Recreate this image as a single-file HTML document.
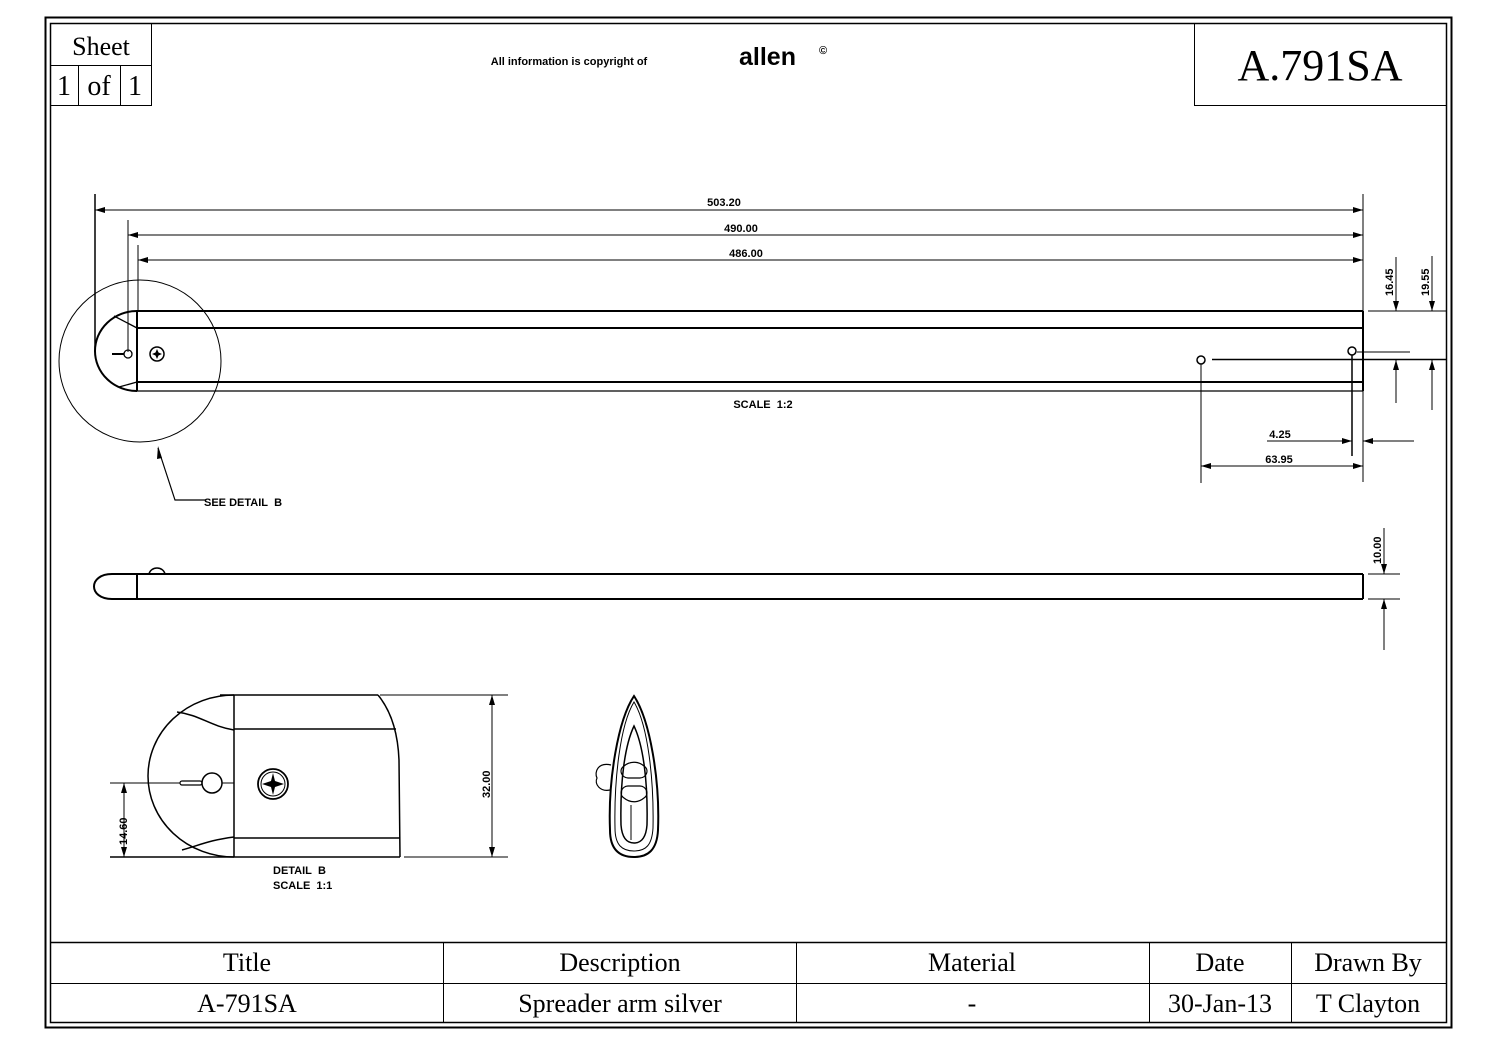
<!DOCTYPE html>
<html><head><meta charset="utf-8"><style>
html,body{margin:0;padding:0;background:#fff;}
svg{display:block;}
.s{font-family:"Liberation Serif",serif;fill:#000;}
.a{font-family:"Liberation Sans",sans-serif;fill:#000;font-weight:bold;}
</style></head><body>
<svg width="1497" height="1058" viewBox="0 0 1497 1058" xmlns="http://www.w3.org/2000/svg">
<defs>
<marker id="ar" viewBox="0 0 10 6" refX="10" refY="3" markerWidth="10" markerHeight="6" markerUnits="userSpaceOnUse" orient="auto-start-reverse"><path d="M0,0 L10,3 L0,6 z" fill="#000"/></marker>
</defs>
<g fill="none" stroke="#000">
<rect x="45.5" y="17.5" width="1406" height="1010" stroke-width="2"/>
<rect x="50.5" y="23.5" width="1396" height="999" stroke-width="1.5"/>
<rect x="50.5" y="23.5" width="101" height="82" stroke-width="1"/>
<line x1="50" y1="65.5" x2="151" y2="65.5"/>
<line x1="78.5" y1="65" x2="78.5" y2="105"/>
<line x1="120.5" y1="65" x2="120.5" y2="105"/>
<rect x="1194.5" y="23.5" width="252" height="82"/>
<line x1="50" y1="942.5" x2="1446" y2="942.5" stroke-width="1.5"/>
<line x1="50" y1="983.5" x2="1446" y2="983.5"/>
<line x1="443.5" y1="942" x2="443.5" y2="1022"/>
<line x1="796.5" y1="942" x2="796.5" y2="1022"/>
<line x1="1149.5" y1="942" x2="1149.5" y2="1022"/>
<line x1="1291.5" y1="942" x2="1291.5" y2="1022"/>

<g stroke-width="2">
<line x1="137" y1="311" x2="1363" y2="311"/>
<line x1="137" y1="328" x2="1363" y2="328"/>
<line x1="137" y1="382" x2="1363" y2="382"/>
<line x1="1363" y1="311" x2="1363" y2="391"/>
<line x1="137" y1="311" x2="137" y2="391"/>
<path d="M137,311 A42,40 0 0 0 137,391"/>
</g>
<line x1="137" y1="391" x2="1363" y2="391" stroke-width="1.2"/>
<line x1="114" y1="316" x2="137" y2="328" stroke-width="1.3"/>
<line x1="119" y1="387" x2="137" y2="382" stroke-width="1.3"/>
<circle cx="128" cy="354" r="4" stroke-width="1.3"/>
<line x1="112" y1="354" x2="124" y2="354" stroke-width="2"/>
<circle cx="157" cy="354" r="7" stroke-width="1.5"/>
<path d="M157,349 L158.5,352.5 L162,354 L158.5,355.5 L157,359 L155.5,355.5 L152,354 L155.5,352.5 Z" fill="#000" stroke="none"/>
<circle cx="140" cy="361" r="81" stroke-width="1"/>
<polyline points="158,448 175,500 205,500" stroke-width="1.2"/>
<path d="M158,446 L162,458 L157,459 Z" fill="#000" stroke="none"/>

<g stroke-width="1">
<line x1="95" y1="194" x2="95" y2="352" stroke-width="1.5"/>
<line x1="128" y1="220" x2="128" y2="352"/>
<line x1="138" y1="245" x2="138" y2="310"/>
<line x1="1363" y1="194" x2="1363" y2="482"/>
<line x1="95" y1="210" x2="1363" y2="210" marker-start="url(#ar)" marker-end="url(#ar)"/>
<line x1="128" y1="235" x2="1363" y2="235" marker-start="url(#ar)" marker-end="url(#ar)"/>
<line x1="138" y1="260" x2="1363" y2="260" marker-start="url(#ar)" marker-end="url(#ar)"/>
</g>
<circle cx="1201" cy="360" r="4" stroke-width="1.5"/>
<circle cx="1352" cy="351" r="4" stroke-width="1.5"/>
<line x1="1212" y1="359.5" x2="1446" y2="359.5" stroke-width="1.5"/>
<line x1="1357" y1="352" x2="1410" y2="352" stroke-width="1"/>
<line x1="1352" y1="355" x2="1352" y2="456" stroke-width="1.5"/>
<line x1="1201" y1="364" x2="1201" y2="483" stroke-width="1"/>
<line x1="1368" y1="311" x2="1446" y2="311" stroke-width="1"/>
<g stroke-width="1">
<line x1="1396" y1="257" x2="1396" y2="311" marker-end="url(#ar)"/>
<line x1="1396" y1="403" x2="1396" y2="360" marker-end="url(#ar)"/>
<line x1="1432" y1="256" x2="1432" y2="311" marker-end="url(#ar)"/>
<line x1="1432" y1="410" x2="1432" y2="360" marker-end="url(#ar)"/>
<line x1="1267" y1="441" x2="1352" y2="441" marker-end="url(#ar)"/>
<line x1="1414" y1="441" x2="1363" y2="441" marker-end="url(#ar)"/>
<line x1="1201" y1="466" x2="1363" y2="466" marker-start="url(#ar)" marker-end="url(#ar)"/>
</g>

<g stroke-width="2">
<line x1="112" y1="574" x2="1363" y2="574"/>
<line x1="112" y1="599" x2="1363" y2="599"/>
<line x1="1363" y1="574" x2="1363" y2="599"/>
<line x1="137" y1="574" x2="137" y2="599"/>
<path d="M112,574 C88,574 88,599 112,599"/>
<path d="M149,574 C151,566 163,566 165,574" stroke-width="1.5"/>
</g>
<g stroke-width="1">
<line x1="1368" y1="574" x2="1400" y2="574"/>
<line x1="1368" y1="599" x2="1400" y2="599"/>
<line x1="1384" y1="528" x2="1384" y2="574" marker-end="url(#ar)"/>
<line x1="1384" y1="650" x2="1384" y2="599" marker-end="url(#ar)"/>
</g>

<g stroke-width="1.5">
<line x1="220" y1="695" x2="378" y2="695"/>
<path d="M378,695 C392,712 398,735 399,760 L400,857"/>
<line x1="110" y1="857" x2="400" y2="857"/>
<line x1="234" y1="695" x2="234" y2="857"/>
<line x1="234" y1="729" x2="396" y2="729"/>
<line x1="234" y1="838" x2="400" y2="838"/>
<path d="M234,695 A86,81 0 0 0 234,857"/>
<path d="M177,712 C200,715 210,726 234,730"/>
<path d="M182,850 C200,845 210,840 234,837"/>
</g>
<circle cx="212" cy="783" r="10" stroke-width="1.5"/>
<rect x="180" y="781" width="22" height="4" rx="2" stroke-width="1.2"/>
<line x1="222" y1="783" x2="234" y2="783"/>
<circle cx="273" cy="784" r="15" stroke-width="1.8"/>
<circle cx="273" cy="784" r="12" stroke-width="1"/>
<path d="M273,773 L275,781 L284,784 L275,787 L273,795 L271,787 L262,784 L271,781 Z" fill="#000" stroke="none"/>
<g stroke-width="1">
<line x1="110" y1="783" x2="180" y2="783"/>
<line x1="380" y1="695" x2="508" y2="695"/>
<line x1="404" y1="857" x2="508" y2="857"/>
<line x1="124" y1="783" x2="124" y2="857" marker-start="url(#ar)" marker-end="url(#ar)"/>
<line x1="492" y1="695" x2="492" y2="857" marker-start="url(#ar)" marker-end="url(#ar)"/>
</g>

<g stroke-width="1.5">
<path d="M634,696 C650,720 660,780 658,830 C657,850 648,857 634,857 C620,857 610,850 610,830 C608,780 618,720 634,696 Z" stroke-width="2"/>
<path d="M634,702 C648,725 654,780 653,828 C652,845 646,851 634,851 C622,851 615,845 615,828 C614,780 620,725 634,702 Z" stroke-width="1"/>
<path d="M634,726 C643,745 648,780 647,825 C646,838 641,843 634,843 C627,843 622,838 621,825 C620,780 625,745 634,726 Z"/>
<path d="M624,766 C630,761 638,761 644,766 C650,770 646,778 640,778 L628,778 C622,778 618,770 624,766 Z" stroke-width="1.2"/>
<path d="M624,798 C630,803 638,803 644,798 C650,794 646,786 640,786 L628,786 C622,786 618,794 624,798 Z" stroke-width="1.2"/>
<line x1="631" y1="805" x2="631" y2="840" stroke-width="1"/>
<path d="M611,765 C598,762 594,772 597,778 C594,784 600,792 610,790" stroke-width="1.2"/>
</g>
</g>

<text x="101" y="55" class="s" font-size="26" text-anchor="middle">Sheet</text>
<text x="64" y="95" class="s" font-size="28" text-anchor="middle">1</text>
<text x="99" y="95" class="s" font-size="28" text-anchor="middle">of</text>
<text x="135" y="95" class="s" font-size="28" text-anchor="middle">1</text>
<text x="1320" y="80" class="s" font-size="44" text-anchor="middle">A.791SA</text>
<text x="569" y="65" class="a" font-size="11" font-weight="normal" text-anchor="middle">All information is copyright of</text>
<text x="739" y="65" class="a" font-size="25" font-weight="normal">allen</text>
<text x="819" y="54" class="a" font-size="11">©</text>

<g class="s" font-size="26" text-anchor="middle">
<text x="247" y="971">Title</text>
<text x="620" y="971">Description</text>
<text x="972" y="971">Material</text>
<text x="1220" y="971">Date</text>
<text x="1368" y="971">Drawn By</text>
<text x="247" y="1012">A-791SA</text>
<text x="620" y="1012">Spreader arm silver</text>
<text x="972" y="1012">-</text>
<text x="1220" y="1012">30-Jan-13</text>
<text x="1368" y="1012">T Clayton</text>
</g>

<g class="a" font-size="11" font-weight="normal">
<text x="724" y="206" text-anchor="middle">503.20</text>
<text x="741" y="232" text-anchor="middle">490.00</text>
<text x="746" y="257" text-anchor="middle">486.00</text>
<text x="763" y="408" text-anchor="middle">SCALE&#160;&#160;1:2</text>
<text x="204" y="506">SEE DETAIL&#160;&#160;B</text>
<text x="1280" y="438" text-anchor="middle">4.25</text>
<text x="1279" y="463" text-anchor="middle">63.95</text>
<text transform="translate(1393,296) rotate(-90)">16.45</text>
<text transform="translate(1429,296) rotate(-90)">19.55</text>
<text transform="translate(1381,564) rotate(-90)">10.00</text>
<text transform="translate(490,798) rotate(-90)">32.00</text>
<text transform="translate(127,845) rotate(-90)">14.60</text>
<text x="273" y="874">DETAIL&#160;&#160;B</text>
<text x="273" y="889">SCALE&#160;&#160;1:1</text>
</g>
</svg>
</body></html>
